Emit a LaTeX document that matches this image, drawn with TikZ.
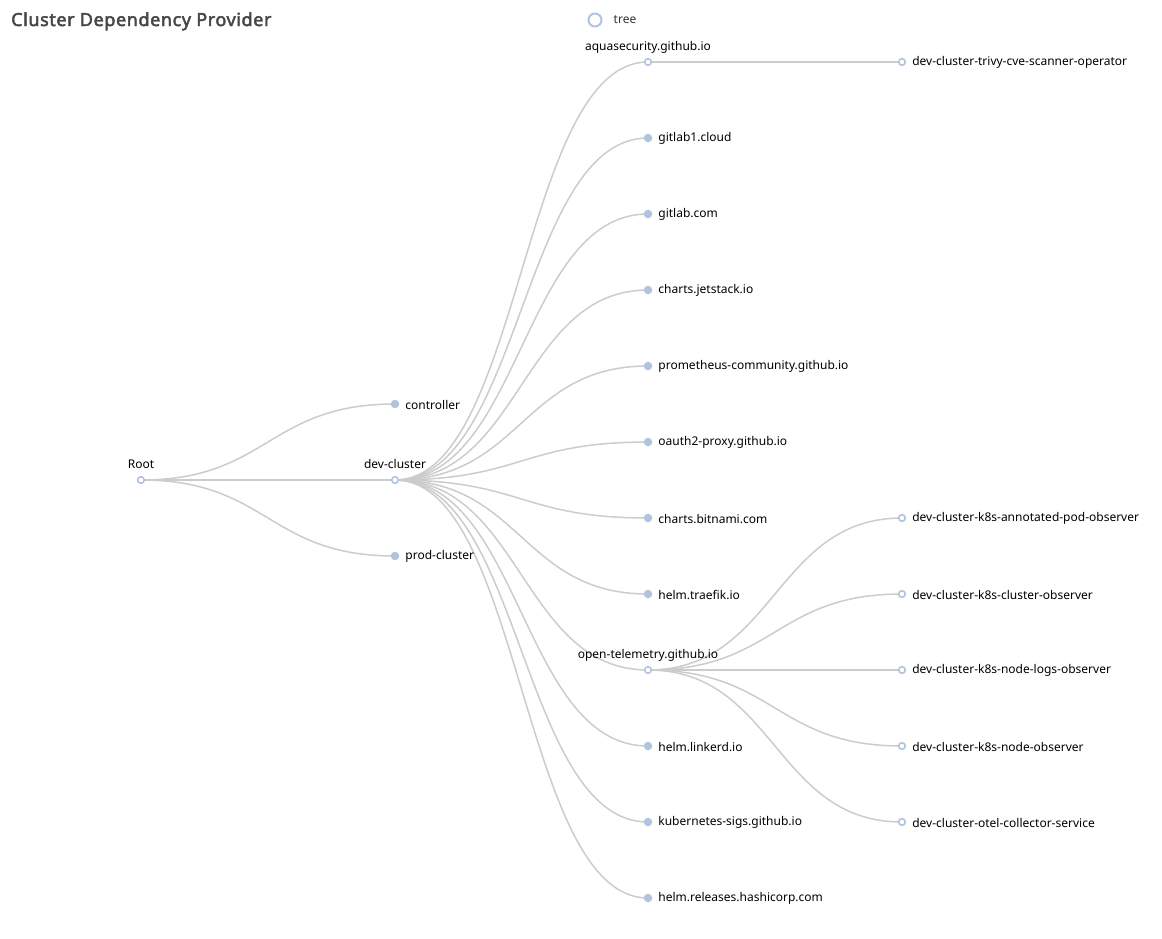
\documentclass[tikz,border=0pt]{standalone}
\usepackage{fontspec}
\setmainfont{Noto Sans}
\newfontfamily\titlefont{Noto Sans}[FakeBold=2.6, LetterSpace=3.3]
\usetikzlibrary{positioning, calc, backgrounds}

\definecolor{linkgray}{HTML}{CCCCCC}
\definecolor{dotblue}{HTML}{B0C4DE}
\definecolor{titlegray}{HTML}{464646}
\definecolor{legendgray}{HTML}{333333}

\tikzset{
  leaf/.style={circle, fill=dotblue, inner sep=0pt, minimum size=8.5pt,
    label={[inner sep=0pt, label distance=5.75pt, yshift=-0.6pt]right:#1}},
  hub/.style={circle, draw=dotblue, fill=white, line width=1.6pt, inner sep=0pt, minimum size=6.6pt,
    label={[inner sep=0pt, anchor=base, label distance=7.5pt]above:#1}},
  link/.style={draw=linkgray, line width=1.5pt}
}

\newcommand{\treelink}[2]{%
  \draw[link] let \p1=(#1.center), \p2=(#2.center) in
    (\p1) .. controls ({0.5*\x1+0.5*\x2},\y1) and ({0.5*\x1+0.5*\x2},\y2) .. (\p2);}

\begin{document}
\begin{tikzpicture}[x=1pt, y=-1pt, font=\fontsize{12}{14}\selectfont]
\useasboundingbox (0,0) rectangle (1162,938);

\node[anchor=base west, inner sep=0pt, text=titlegray, font=\titlefont\fontsize{18}{22}\selectfont] (title) at (11,26) {Cluster Dependency Provider};

% legend
\node[circle, draw=dotblue, line width=2pt, minimum size=13pt, inner sep=0pt] (legend) at (595,20) {};
\node[right=11pt of legend, inner sep=0pt, text=legendgray] (legendtxt) {tree};

% level 0 and 1
\node[hub=Root] (root) at (141,480) {};
\node[leaf=controller] (controller) at (395,404) {};
\node[hub=dev-cluster] (dev) at (395,480) {};
\node[leaf=prod-cluster] (prod) at (395,556) {};

% repositories under dev-cluster
\node[hub=aquasecurity.github.io] (aqua) at (648,62) {};
\node[hub=open-telemetry.github.io] (otel) at (648,670) {};
\foreach \name/\txt/\y in {
  gitlab1/gitlab1.cloud/138,
  gitlab/gitlab.com/214,
  jetstack/charts.jetstack.io/290,
  prometheus/prometheus-community.github.io/366,
  oauth/oauth2-proxy.github.io/442,
  bitnami/charts.bitnami.com/518,
  traefik/helm.traefik.io/594,
  linkerd/helm.linkerd.io/746,
  k8ssigs/kubernetes-sigs.github.io/822,
  hashicorp/helm.releases.hashicorp.com/898}
  \node[leaf=\txt] (\name) at (648,\y) {};

% releases
\node[hub] (trivy) at (902,62) {};
\node[right=6pt of trivy, inner sep=0pt, yshift=-0.6pt] (trivytxt) {dev-cluster-trivy-cve-scanner-operator};
\foreach \name/\txt/\y in {
  podobs/dev-cluster-k8s-annotated-pod-observer/518,
  clusterobs/dev-cluster-k8s-cluster-observer/594,
  logsobs/dev-cluster-k8s-node-logs-observer/670,
  nodeobs/dev-cluster-k8s-node-observer/746,
  collector/dev-cluster-otel-collector-service/822}
{
  \node[hub] (\name) at (902,\y) {};
  \node[right=6pt of \name, inner sep=0pt, yshift=-0.6pt] (\name txt) {\txt};
}

\begin{pgfonlayer}{background}
\foreach \b in {controller, dev, prod} \treelink{root}{\b};
\foreach \b in {aqua, gitlab1, gitlab, jetstack, prometheus, oauth, bitnami, traefik, otel, linkerd, k8ssigs, hashicorp} \treelink{dev}{\b};
\treelink{aqua}{trivy}
\foreach \b in {podobs, clusterobs, logsobs, nodeobs, collector} \treelink{otel}{\b};
\end{pgfonlayer}
\end{tikzpicture}
\end{document}
